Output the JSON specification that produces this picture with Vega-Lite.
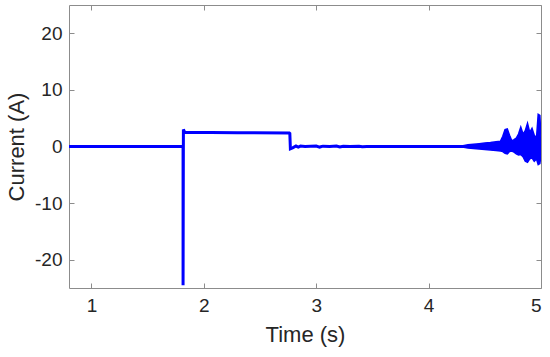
{
  "$schema": "https://vega.github.io/schema/vega-lite/v6.json",
  "width": 472,
  "height": 283,
  "autosize": {"type": "none"},
  "padding": {"left": 69, "top": 5, "right": 9, "bottom": 69},
  "background": "white",
  "config": {
    "view": {"stroke": "#8c8c8c", "strokeWidth": 1},
    "axis": {
      "grid": false,
      "domain": false,
      "tickColor": "#8c8c8c",
      "tickSize": -5,
      "labelFont": "Liberation Sans",
      "labelFontSize": 19,
      "labelColor": "#262626",
      "titleFont": "Liberation Sans",
      "titleFontSize": 22,
      "titleFontWeight": "normal",
      "titleColor": "#262626"
    }
  },
  "datasets": {
    "trace": [
      {"i": 0, "t": 0.8, "v": 0},
      {"i": 1, "t": 1.815, "v": 0},
      {"i": 2, "t": 1.815, "v": -24.5},
      {"i": 3, "t": 1.818, "v": 3.0},
      {"i": 4, "t": 1.83, "v": 2.5},
      {"i": 5, "t": 2.3, "v": 2.45},
      {"i": 6, "t": 2.76, "v": 2.4},
      {"i": 7, "t": 2.765, "v": 2.3},
      {"i": 8, "t": 2.77, "v": -0.4},
      {"i": 9, "t": 2.79, "v": -0.25},
      {"i": 10, "t": 2.82, "v": 0.08},
      {"i": 11, "t": 2.84, "v": -0.1},
      {"i": 12, "t": 2.86, "v": 0.08},
      {"i": 13, "t": 2.9, "v": -0.02},
      {"i": 14, "t": 3.0, "v": 0.08},
      {"i": 15, "t": 3.03, "v": -0.1},
      {"i": 16, "t": 3.06, "v": 0.06},
      {"i": 17, "t": 3.12, "v": 0.0},
      {"i": 18, "t": 3.18, "v": 0.08},
      {"i": 19, "t": 3.21, "v": -0.08},
      {"i": 20, "t": 3.24, "v": 0.05},
      {"i": 21, "t": 3.3, "v": 0.0},
      {"i": 22, "t": 3.38, "v": 0.06},
      {"i": 23, "t": 3.41, "v": -0.06},
      {"i": 24, "t": 3.45, "v": 0.0},
      {"i": 25, "t": 4.0, "v": 0},
      {"i": 26, "t": 4.3, "v": 0},
      {"i": 27, "t": 5.0, "v": 0}
    ],
    "env": [
      {"t": 4.30, "lo": -0.1, "hi": 0.1},
      {"t": 4.35, "lo": -0.25, "hi": 0.3},
      {"t": 4.40, "lo": -0.35, "hi": 0.4},
      {"t": 4.45, "lo": -0.45, "hi": 0.5},
      {"t": 4.50, "lo": -0.55, "hi": 0.6},
      {"t": 4.55, "lo": -0.6, "hi": 0.7},
      {"t": 4.60, "lo": -0.7, "hi": 0.85},
      {"t": 4.64, "lo": -0.8, "hi": 0.95},
      {"t": 4.66, "lo": -0.9, "hi": 1.8},
      {"t": 4.68, "lo": -1.2, "hi": 3.0},
      {"t": 4.70, "lo": -1.3, "hi": 3.1},
      {"t": 4.72, "lo": -0.9, "hi": 2.0},
      {"t": 4.74, "lo": -0.8, "hi": 1.0},
      {"t": 4.76, "lo": -1.0, "hi": 1.2},
      {"t": 4.78, "lo": -1.3, "hi": 1.5},
      {"t": 4.80, "lo": -1.5, "hi": 2.2},
      {"t": 4.82, "lo": -1.4, "hi": 3.4},
      {"t": 4.84, "lo": -1.8, "hi": 2.2},
      {"t": 4.86, "lo": -2.6, "hi": 2.8},
      {"t": 4.88, "lo": -2.8, "hi": 4.1},
      {"t": 4.90, "lo": -2.2, "hi": 2.5},
      {"t": 4.92, "lo": -2.0, "hi": 3.2},
      {"t": 4.94, "lo": -2.6, "hi": 2.0},
      {"t": 4.96, "lo": -2.2, "hi": 1.5},
      {"t": 4.975, "lo": -3.2, "hi": 5.7},
      {"t": 4.99, "lo": -3.0, "hi": 5.5},
      {"t": 5.0, "lo": -1.5, "hi": 1.5}
    ]
  },
  "layer": [
    {
      "data": {"name": "trace"},
      "mark": {"type": "line", "color": "#0000ff", "strokeWidth": 3, "clip": true},
      "encoding": {
        "x": {"field": "t", "type": "quantitative", "scale": {"domain": [0.8, 5], "nice": false, "zero": false},
              "axis": {"orient": "bottom", "values": [1, 2, 3, 4, 5], "title": "Time (s)", "labelPadding": 13, "titlePadding": 9}},
        "y": {"field": "v", "type": "quantitative", "scale": {"domain": [-25, 25], "nice": false},
              "axis": {"orient": "left", "values": [-20, -10, 0, 10, 20], "title": "Current (A)", "labelPadding": 12, "titlePadding": 6,
                       "labelExpr": "replace(datum.label, '\u2212', '-')"}},
        "order": {"field": "i"}
      }
    },
    {
      "data": {"name": "env"},
      "mark": {"type": "area", "color": "#0000ff", "opacity": 1, "stroke": "#0000ff", "strokeWidth": 1.5, "clip": true},
      "encoding": {
        "x": {"field": "t", "type": "quantitative",
              "axis": {"orient": "top", "values": [1, 2, 3, 4, 5], "labels": false, "title": null}},
        "y": {"field": "lo", "type": "quantitative",
              "axis": {"orient": "right", "values": [-20, -10, 0, 10, 20], "labels": false, "title": null}},
        "y2": {"field": "hi"}
      }
    }
  ],
  "resolve": {"axis": {"x": "independent", "y": "independent"}}
}
